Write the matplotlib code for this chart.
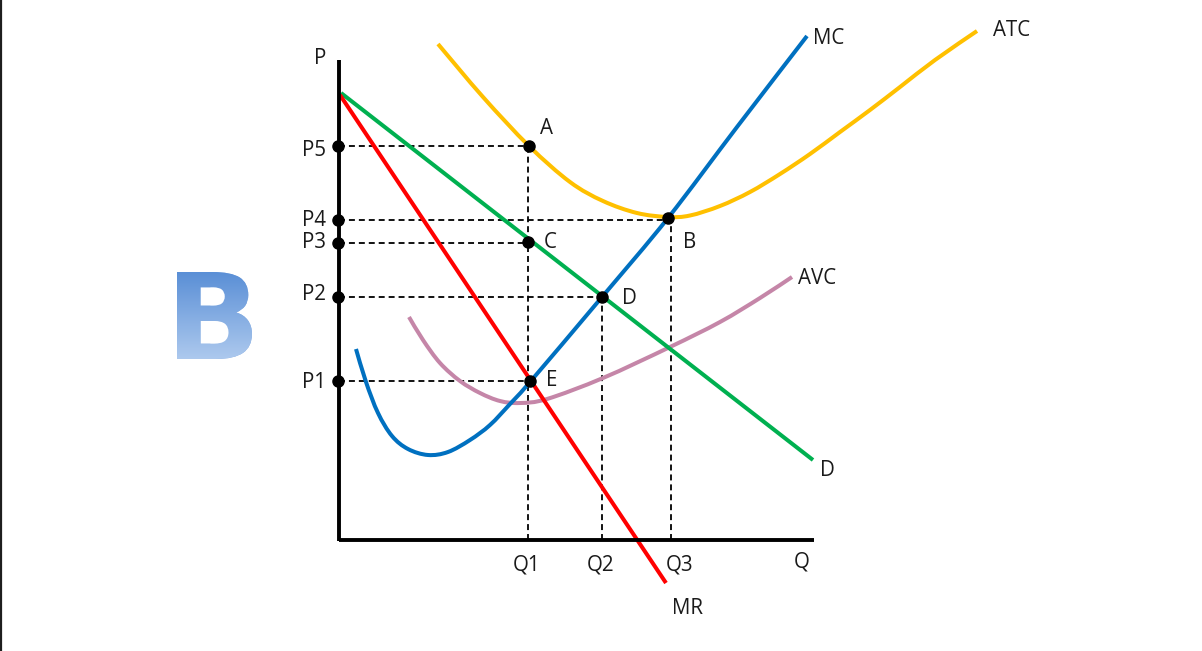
import numpy as np
import matplotlib
matplotlib.use("Agg")
import matplotlib.pyplot as plt
import matplotlib.patheffects as pe
from matplotlib.colors import LinearSegmentedColormap
from matplotlib.font_manager import FontProperties
from matplotlib.patches import PathPatch
from matplotlib.path import Path
from matplotlib.textpath import TextPath
from matplotlib.transforms import Affine2D

plt.rcParams["font.family"] = "Open Sans"

# curves (quantity, price)
mc_q = [17, 27, 39, 53, 69, 89, 109, 131, 151, 171, 191, 263, 329, 398, 468]
mc_p = [191, 158, 127, 104, 91, 85, 88, 100, 115, 136, 158, 243, 322, 413, 504]
atc_q = [99, 144, 190, 231, 264, 298, 329, 351, 381, 411, 441, 471, 501, 531, 561, 596, 638]
atc_p = [496, 443, 394, 358, 339, 327, 323, 324.5, 334, 348, 366, 386, 408, 430, 453, 480, 509]
avc_q = [70, 84, 101, 121, 141, 161, 181, 208, 264, 331, 381, 421, 453]
avc_p = [223, 200, 177, 159, 147, 139, 137, 141, 162, 193, 218, 242, 263]
d_q = [2, 474]
d_p = [447, 80]
mr_q = [1, 327]
mr_p = [445, -43]

# equilibrium points and their dashed guides
point_names = ["A", "B", "C", "D", "E"]
point_q = [190, 329, 189, 263, 191]
point_p = [394, 322, 298, 243, 159]
price_names = ["P1", "P2", "P3", "P4", "P5"]
price_p = [159, 243, 297, 320, 394]
price_end_q = [191, 263, 189, 329, 190]
qty_names = ["Q1", "Q2", "Q3"]
qty_q = [189, 263, 331.5]
qty_top_p = [394, 243, 322]

BLUE, YELLOW, GREEN, RED, MAUVE = "#0070c0", "#ffc000", "#00b050", "#ff0000", "#c586a8"

fig = plt.figure(figsize=(12.02, 6.51), dpi=100)
ax = fig.add_axes([0, 0, 1, 1])
ax.axis("off")


def curve(q, p, color, z=3):
    # bezier segments through the read points so the curves aren't angular
    pts = np.column_stack([q, p]).astype(float)
    ends = np.vstack([pts[0], pts, pts[-1]])
    verts = [pts[0]]
    codes = [Path.MOVETO]
    for i in range(1, len(pts)):
        c1 = ends[i] + (ends[i + 1] - ends[i - 1]) / 6
        c2 = ends[i + 1] - (ends[i + 2] - ends[i]) / 6
        verts += [c1, c2, ends[i + 1]]
        codes += [Path.CURVE4] * 3
    ax.add_patch(PathPatch(Path(verts, codes), fill=False, edgecolor=color, lw=2.9,
                           capstyle="butt", joinstyle="round", zorder=z))


# dashed guides
for p, q_end in zip(price_p, price_end_q):
    ax.plot([0, q_end], [p, p], color="black", lw=1.3, dashes=(3.3, 2.2), zorder=2)
for q, p_top in zip(qty_q, qty_top_p):
    ax.plot([q, q], [0, p_top], color="black", lw=1.3, dashes=(3.3, 2.2), zorder=2)

curve(atc_q, atc_p, YELLOW)
curve(avc_q, avc_p, MAUVE)
curve(mc_q, mc_p, BLUE, z=4)
ax.plot(d_q, d_p, color=GREEN, lw=2.9, solid_capstyle="butt", zorder=3)
ax.plot(mr_q, mr_p, color=RED, lw=2.9, solid_capstyle="butt", zorder=3.5)

# axes of the diagram
ax.plot([0, 0], [-1, 480], color="black", lw=2.8, solid_capstyle="butt", zorder=5)
ax.plot([0, 475], [0, 0], color="black", lw=2.8, solid_capstyle="butt", zorder=5)

# dots
ax.plot(point_q, point_p, "o", color="black", ms=8, zorder=6)
ax.plot([-1] * len(price_p), price_p, "o", color="black", ms=8, zorder=6)

# labels
fs = 14.8
ink = "#1a1a1a"
ax.text(-19, 482, "P", fontsize=fs, color=ink, ha="center", va="center")
ax.text(463, -22, "Q", fontsize=fs, color=ink, ha="center", va="center")
for name, p in zip(price_names, [157, 245, 297, 320, 390]):
    ax.text(-25, p, name, fontsize=fs, color=ink, ha="center", va="center")
for name, q in zip(qty_names, [188, 262, 341]):
    ax.text(q, -24.5, name, fontsize=fs, color=ink, ha="center", va="center")
for name, q, p in zip(point_names, [207, 351, 211, 290, 213], [412, 297, 297, 241, 159]):
    ax.text(q, p, name, fontsize=fs, color=ink, ha="center", va="center")
ax.text(490, 501, "MC", fontsize=fs, color=ink, ha="center", va="center")
ax.text(673, 509, "ATC", fontsize=fs, color=ink, ha="center", va="center")
ax.text(478, 262, "AVC", fontsize=fs, color=ink, ha="center", va="center")
ax.text(488, 70, "D", fontsize=fs, color=ink, ha="center", va="center")
ax.text(349, -68, "MR", fontsize=fs, color=ink, ha="center", va="center")

# big gradient letter on the left
b_left, b_right, b_bottom, b_top = -162, -87, 181, 268
fp = FontProperties(family="DejaVu Sans", weight="bold")
glyph = TextPath((0, 0), "B", size=100, prop=fp)
ext = glyph.get_extents()
to_data = Affine2D().translate(-ext.x0, -ext.y0).scale((b_right - b_left) / ext.width, (b_top - b_bottom) / ext.height).translate(b_left, b_bottom)
clip = PathPatch(to_data.transform_path(glyph), transform=ax.transData, fc="none", ec="none")
ax.add_patch(clip)
# drawn as a path so the clip applies to the text too (agg ignores it otherwise)
letter = ax.text(b_left, b_bottom, "B", fontsize=86, family="DejaVu Sans", fontweight="bold",
                 color="#82abe2", ha="left", va="baseline", zorder=2, clip_on=True,
                 path_effects=[pe.Normal()])
letter.set_clip_path(clip)
cmap = LinearSegmentedColormap.from_list("b_fill", ["#5a8fd6", "#adc9ee"])
grad = ax.imshow(np.linspace(0, 1, 256).reshape(-1, 1), cmap=cmap, aspect="auto",
                 extent=(b_left, b_right, b_bottom, b_top), zorder=2.5)
grad.set_clip_path(clip)

# dark edge at the left of the screenshot
ax.axvline(-338, color="#1e1e1e", lw=1.6)

ax.set_xlim(-339, 863)
ax.set_ylim(-111, 540)

fig.savefig("out.png", dpi=100)
